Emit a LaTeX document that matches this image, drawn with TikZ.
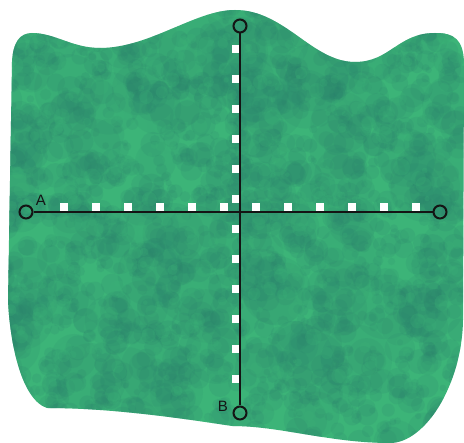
\documentclass[tikz,border=0pt]{standalone}
\usepackage{fontspec}
\setmainfont{Liberation Sans}
\definecolor{gLight}{RGB}{60,180,120}
\definecolor{gDark}{RGB}{42,126,108}
\definecolor{axisC}{RGB}{20,20,20}
\tikzset{
  blob/.style={fill=gLight},
  spot/.style={fill=gDark,opacity=0.15},
  bigspot/.style={fill=gDark,opacity=0.12},
  hilite/.style={fill=gLight,opacity=0.22},
  tickbox/.style={fill=white,draw=none,minimum size=8pt,inner sep=0pt,outer sep=0pt},
  endcirc/.style={circle,draw=axisC,line width=2pt,minimum size=13pt,inner sep=0pt},
  axisline/.style={draw=axisC,line width=2pt},
  lbl/.style={font=\fontsize{15}{17}\selectfont,text=axisC,inner sep=0pt}
}
\begin{document}
\begin{tikzpicture}[x=1pt,y=-1pt]
\useasboundingbox (0,0) rectangle (464,443);
\def\blobpath{(12,62) .. controls (13,42) and (20,33) .. (32,33)
  .. controls (55,33) and (72,48) .. (100,48)
  .. controls (150,48) and (195,10) .. (235,10)
  .. controls (285,10) and (312,62) .. (355,62)
  .. controls (390,62) and (398,33) .. (435,33)
  .. controls (455,33) and (463,40) .. (464,62)
  -- (463,320)
  .. controls (462,385) and (425,443) .. (390,443)
  .. controls (330,443) and (280,426) .. (232,426)
  .. controls (180,418) and (110,408) .. (47,408)
  .. controls (22,400) and (10,345) .. (8,300)
  -- cycle}
\fill[blob] \blobpath;
\begin{scope}
  \clip \blobpath;
  \pgfmathsetseed{11}
  \foreach \i in {1,...,160}{
    \pgfmathsetmacro{\px}{rnd*464}
    \pgfmathsetmacro{\py}{rnd*443}
    \pgfmathsetmacro{\pr}{14+rnd*22}
    \fill[bigspot] (\px,\py) circle[radius=\pr];
  }
  \foreach \i in {1,...,1600}{
    \pgfmathsetmacro{\px}{rnd*464}
    \pgfmathsetmacro{\py}{rnd*443}
    \pgfmathsetmacro{\pr}{3+rnd*10}
    \fill[spot] (\px,\py) circle[radius=\pr];
  }
  \foreach \i in {1,...,600}{
    \pgfmathsetmacro{\px}{rnd*464}
    \pgfmathsetmacro{\py}{rnd*443}
    \pgfmathsetmacro{\pr}{2+rnd*7}
    \fill[hilite] (\px,\py) circle[radius=\pr];
  }
\end{scope}
% ticks
\foreach \k in {0,...,11}{
  \node[tickbox] (h\k) at ({63.5+32*\k},207.5) {};
  \node[tickbox] (v\k) at (235.5,{49+30*\k}) {};
}
% end circles
\node[endcirc] (L) at (26,212) {};
\node[endcirc] (R) at (440,212) {};
\node[endcirc] (T) at (240,26) {};
\node[endcirc] (B) at (240,413) {};
\draw[axisline] (L) -- (R);
\draw[axisline] (T) -- (B);
\node[lbl] (la) at (41,200) {A};
\node[lbl] (lb) at (223,406) {B};
\end{tikzpicture}
\end{document}
